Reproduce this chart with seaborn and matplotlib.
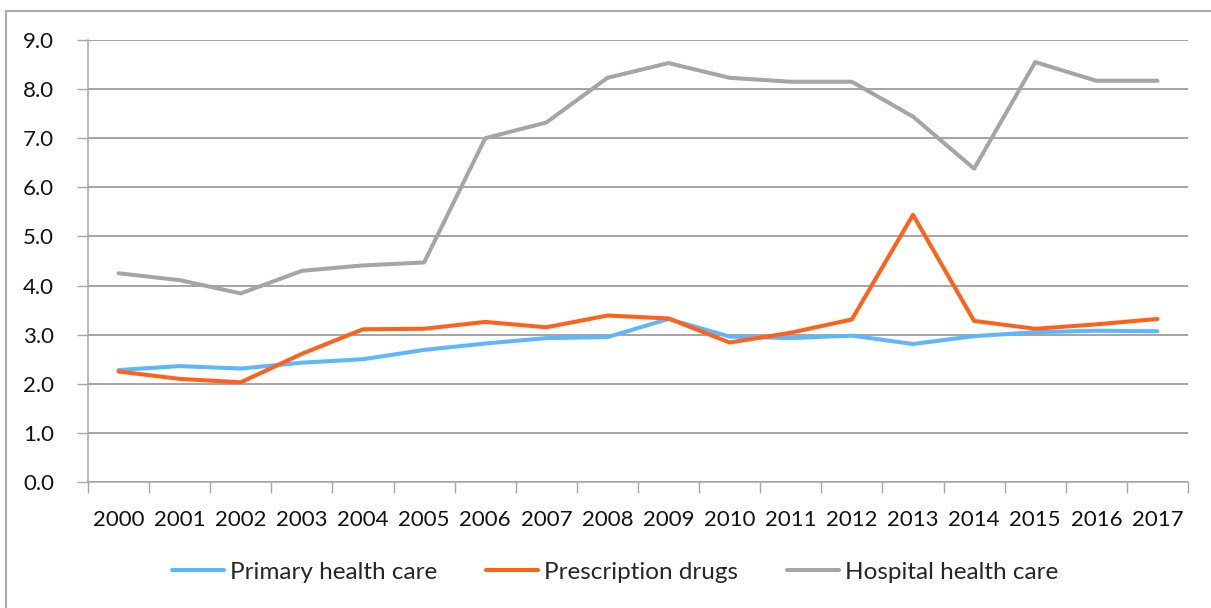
import matplotlib
matplotlib.use("Agg")
import matplotlib.pyplot as plt
from matplotlib.patches import Rectangle
from matplotlib.ticker import FixedLocator, NullFormatter
import seaborn as sns
import pandas as pd
import numpy as np

years = [str(y) for y in range(2000, 2018)]
primary_health_care = [2.28, 2.36, 2.31, 2.43, 2.50, 2.69, 2.82, 2.93, 2.95, 3.32,
                       2.96, 2.93, 2.98, 2.81, 2.97, 3.05, 3.08, 3.07]
prescription_drugs = [2.25, 2.10, 2.03, 2.61, 3.11, 3.12, 3.26, 3.15, 3.39, 3.33,
                      2.84, 3.04, 3.31, 5.44, 3.28, 3.12, 3.21, 3.32]
hospital_health_care = [4.25, 4.11, 3.84, 4.30, 4.41, 4.47, 7.00, 7.32, 8.23, 8.53,
                        8.23, 8.15, 8.15, 7.44, 6.38, 8.55, 8.17, 8.17]
series_names = ["Primary health care", "Prescription drugs", "Hospital health care"]
y_ticks = [0, 1, 2, 3, 4, 5, 6, 7, 8, 9]

colors = ["#5EB6FF", "#FF6119", "#A5A5A5"]
grid_color = "#8C8C8C"
axis_color = "#A6A6A6"

df = pd.concat([
    pd.DataFrame({"pos": np.arange(len(years)), "value": vals, "series": name})
    for name, vals in zip(series_names,
                          [primary_health_care, prescription_drugs, hospital_health_care])
])

sns.set_theme(style="white")
plt.rcParams["font.family"] = ["Lato", "DejaVu Sans"]

fig = plt.figure(figsize=(12.11, 6.08), dpi=100)
ax = fig.add_axes([88 / 1211, 126 / 608, 1100 / 1211, 442 / 608])

sns.lineplot(data=df, x="pos", y="value", hue="series", hue_order=series_names,
             palette=colors, linewidth=2.9, ax=ax, legend=False, zorder=3)

ax.set_xlim(-0.5, len(years) - 0.5)
ax.set_ylim(0, 9)
ax.set_xlabel("")
ax.set_ylabel("")

# y axis: ticks, labels with one decimal, horizontal gridlines
ax.set_yticks(y_ticks)
ax.set_yticklabels([f"{v:.1f}" for v in y_ticks])
ax.yaxis.grid(True, color=grid_color, linewidth=1.1)
ax.xaxis.grid(False)
ax.tick_params(axis="y", which="major", left=True, length=8, width=1,
               color=axis_color, pad=16.5, labelsize=16, labelcolor="#111111")

# x axis: labels at category centres, tick marks at category boundaries
ax.set_xticks(np.arange(len(years)))
ax.set_xticklabels(years)
ax.xaxis.set_minor_locator(FixedLocator(np.arange(-0.5, len(years), 1.0)))
ax.xaxis.set_minor_formatter(NullFormatter())
ax.tick_params(axis="x", which="major", bottom=False, length=0, pad=20,
               labelsize=16, labelcolor="#111111")
ax.tick_params(axis="x", which="minor", bottom=True, length=8, width=1,
               color=axis_color)

for side in ["top", "right"]:
    ax.spines[side].set_visible(False)
for side in ["left", "bottom"]:
    ax.spines[side].set_color(axis_color)
    ax.spines[side].set_linewidth(1.1)
ax.spines["bottom"].set_zorder(4)

handles = [plt.Line2D([], [], color=c, linewidth=2.9) for c in colors]
fig.legend(handles, series_names, loc="center", bbox_to_anchor=(0.508, 36 / 608),
           ncol=3, frameon=False, fontsize=17.5, handlelength=2.15,
           handletextpad=0.25, columnspacing=2.0)

# outer chart border
fig.patches.append(Rectangle((6 / 1211, -0.2), 1.2, 1.2 - 11 / 608,
                             transform=fig.transFigure, fill=False,
                             edgecolor="#AAAAAA", linewidth=1.5))

fig.savefig("out.png", dpi=100, facecolor="white")
